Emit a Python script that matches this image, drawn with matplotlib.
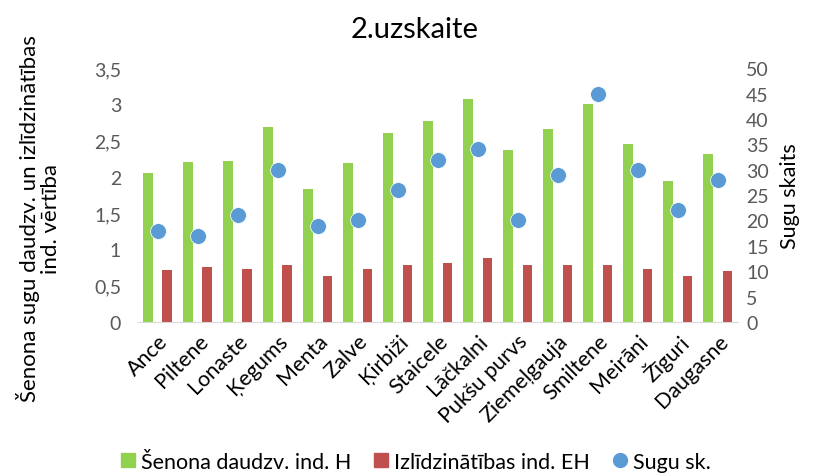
import numpy as np
import matplotlib
matplotlib.use("Agg")
from matplotlib import pyplot as plt
from matplotlib.lines import Line2D

# data
vietas = ["Ance", "Piltene", "Lonaste", "Ķegums", "Menta", "Zalve", "Ķirbiži",
          "Staicele", "Lāčkalni", "Pukšu purvs", "Ziemeļgauja", "Smiltene",
          "Meirāni", "Žīguri", "Daugasne"]
shannon_H = [2.06, 2.21, 2.22, 2.69, 1.84, 2.19, 2.60, 2.77, 3.07, 2.37, 2.66,
             3.00, 2.45, 1.95, 2.32]
izlidz_EH = [0.71, 0.76, 0.73, 0.79, 0.63, 0.73, 0.79, 0.81, 0.88, 0.79, 0.79,
             0.79, 0.73, 0.63, 0.70]
sugu_sk = [18, 17, 21, 30, 19, 20, 26, 32, 34, 20, 29, 45, 30, 22, 28]

green = "#92D050"
red = "#C0504D"
blue = "#5B9BD5"
txt = "#595959"

plt.rcParams["font.family"] = ["Lato", "DejaVu Sans"]

fig = plt.figure(figsize=(8.22, 4.77), dpi=100)
ax = fig.add_axes([0.1675, 0.3229, 0.73, 0.532])
ax2 = ax.twinx()

x = np.arange(len(vietas))
w = 0.24
ax.bar(x - 0.24, shannon_H, w, color=green, zorder=2)
ax.bar(x + 0.24, izlidz_EH, w, color=red, zorder=2)
ax2.scatter(x, sugu_sk, s=130, color=blue, edgecolor="white", linewidth=0.5, zorder=3)

ax.set_xlim(-0.5, len(vietas) - 0.5)
ax.set_ylim(0, 3.5)
ax2.set_ylim(0, 50)
ax.set_yticks(np.arange(0, 3.51, 0.5))
ax.set_yticklabels(["0", "0,5", "1", "1,5", "2", "2,5", "3", "3,5"])
ax2.set_yticks(np.arange(0, 51, 5))

ax.set_xticks(x)
ax.set_xticklabels(vietas, rotation=45, ha="right", rotation_mode="anchor")

for a in (ax, ax2):
    for s in a.spines.values():
        s.set_visible(False)
    a.tick_params(length=0, labelsize=14, labelcolor=txt)
ax.spines["bottom"].set_visible(True)
ax.spines["bottom"].set_color("#D9D9D9")
ax.tick_params(axis="x", labelcolor="black", labelsize=15.5, pad=6)
ax.tick_params(axis="y", pad=12)
ax2.tick_params(axis="y", pad=6)

ax.set_ylabel("Šenona sugu daudzv. un izlīdzinātības\nind. vērtība", fontsize=16,
              linespacing=1.05)
ax.yaxis.set_label_coords(-0.128, 0.41)
ax2.set_ylabel("Sugu skaits", fontsize=15.5, labelpad=8)

fig.text(0.505, 0.937, "2.uzskaite", ha="center", va="center", fontsize=21)

handles = [
    Line2D([], [], marker="s", linestyle="none", color=green, markersize=10),
    Line2D([], [], marker="s", linestyle="none", color=red, markersize=10),
    Line2D([], [], marker="o", linestyle="none", color=blue, markersize=10),
]
labels = ["Šenona daudzv. ind. H", "Izlīdzinātības ind. EH", "Sugu sk."]
leg = fig.legend(handles, labels, loc="center", bbox_to_anchor=(0.505, 0.03), ncol=3,
                 frameon=False, fontsize=15.5, handletextpad=0.2, columnspacing=1.0,
                 handlelength=0.8)
for t in leg.get_texts():
    t.set_color("black")

fig.savefig("out.png", dpi=100)
